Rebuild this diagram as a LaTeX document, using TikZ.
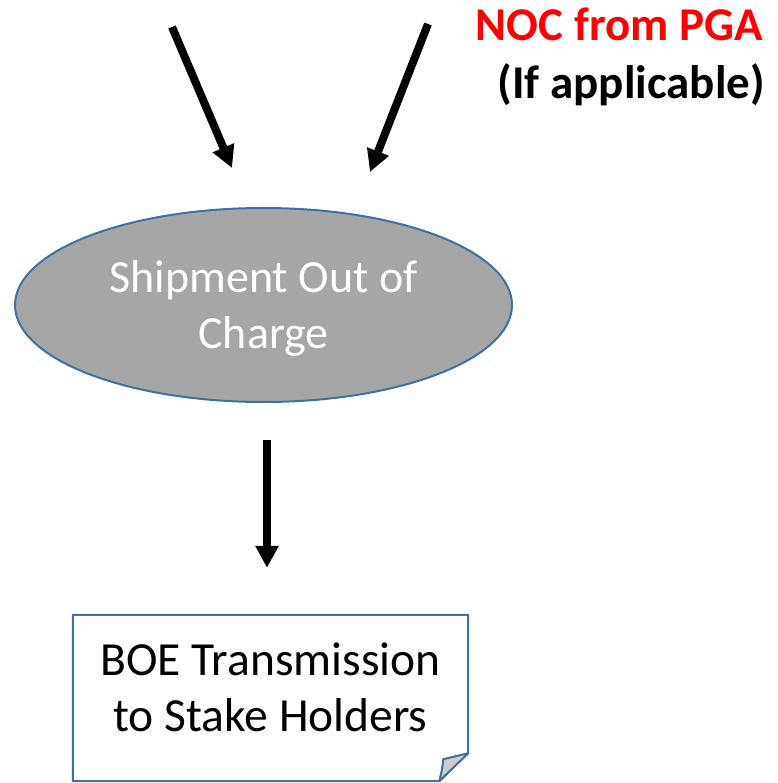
\documentclass[tikz,border=0pt]{standalone}
\usepackage{fontspec}
\setmainfont{Carlito}
\usetikzlibrary{shapes.geometric,arrows.meta}
\definecolor{edgeblue}{HTML}{41719C}
\definecolor{ellgray}{HTML}{A6A6A6}
\definecolor{foldgray}{HTML}{CDCDCD}
\definecolor{nocred}{HTML}{FF0000}
\begin{document}
\begin{tikzpicture}[x=1pt,y=-1pt,
  bigarrow/.style={line width=8pt,-{Triangle[length=22pt,width=22pt]}},
  bigtext/.style={font=\fontsize{47.5}{56}\selectfont,align=center,inner sep=0pt},
  labeltext/.style={font=\fontsize{47}{56}\selectfont\bfseries,inner sep=0pt}]
\useasboundingbox (0,0) rectangle (777,783);
% ellipse
\node[ellipse,draw=edgeblue,line width=2pt,fill=ellgray,minimum width=497pt,minimum height=194pt,
      inner sep=0pt,text=white,font=\fontsize{46}{56}\selectfont,align=center]
  (ship) at (263.5,305) {};
\node[text=white,font=\fontsize{46}{56}\selectfont,align=center,inner sep=0pt]
  (shiptext) at ([yshift=-3pt]ship.center) {Shipment Out of\\Charge};
% box with folded corner
\node[minimum width=395pt,minimum height=166pt,inner sep=0pt] (boe) at (270.5,698) {};
\draw[edgeblue,line width=2pt,fill=white,line join=round]
  (boe.north west) -- (boe.north east) -- ([yshift=28pt]boe.south east)
  -- ([xshift=-29pt]boe.south east) -- (boe.south west) -- cycle;
\draw[edgeblue,line width=2pt,fill=foldgray,line join=round]
  ([yshift=28pt]boe.south east) -- ([xshift=-25pt,yshift=22pt]boe.south east)
  .. controls ([xshift=-26pt,yshift=12pt]boe.south east) .. ([xshift=-29pt]boe.south east) -- cycle;
\node[bigtext] (boetext) at ([yshift=11pt]boe.center) {BOE Transmission\\to Stake Holders};
% labels
\node[labeltext,text=nocred,anchor=base east] (noc) at (763,41) {NOC from PGA};
\node[labeltext,anchor=base east] (ifapp) at (765,99) {(If applicable)};
% arrows
\coordinate (a1s) at (172,27);
\coordinate (a1e) at (232,168);
\coordinate (a2s) at (428,24);
\coordinate (a2e) at (370,172);
\draw[bigarrow] (a1s) -- (a1e);
\draw[bigarrow] (a2s) -- (a2e);
\draw[bigarrow,shorten <=37pt,shorten >=47pt] (ship.south -| 267,0) -- (boe.north -| 267,0);
\end{tikzpicture}
\end{document}
